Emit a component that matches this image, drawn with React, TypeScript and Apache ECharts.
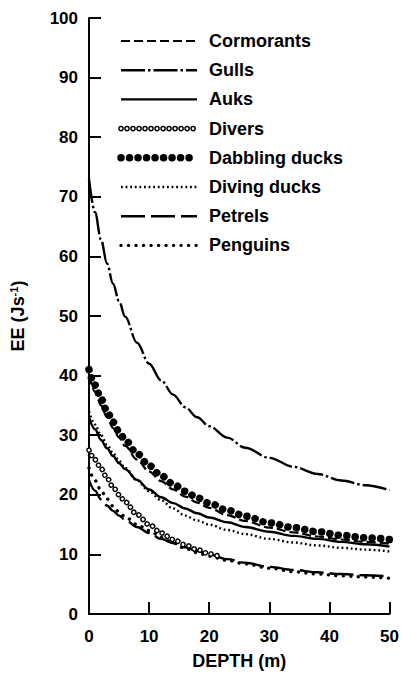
import React, { useEffect, useRef } from "react";
import * as echarts from "echarts";

// ---- data ----
const depths = [0, 1, 2, 3, 4, 5, 6, 8, 10, 12, 14, 16, 18, 20, 23, 26, 30, 34, 38, 42, 46, 50];
const diversDepths = [0, 1, 2, 3, 4, 5, 6, 8, 10, 12, 14, 16, 18, 20, 21.5];

const cormorants = [40, 37.3, 35.0, 33.0, 31.2, 29.6, 28.2, 25.9, 23.9, 22.3, 20.9, 19.7, 18.7, 17.8, 16.6, 15.6, 14.5, 13.7, 13.0, 12.5, 12.1, 11.8];
const gulls = [73, 67.4, 62.8, 58.8, 55.4, 52.5, 49.9, 45.5, 42.0, 39.2, 36.8, 34.7, 33.0, 31.5, 29.6, 27.9, 26.2, 24.7, 23.5, 22.4, 21.6, 20.8];
const auks = [33, 31.0, 29.2, 27.8, 26.5, 25.3, 24.3, 22.5, 20.9, 19.6, 18.6, 17.7, 16.9, 16.2, 15.4, 14.6, 13.8, 13.1, 12.6, 12.1, 11.7, 11.3];
const divers = [27.5, 25.9, 24.4, 22.8, 21.3, 20.0, 18.8, 16.7, 15.0, 13.6, 12.5, 11.6, 10.8, 10.1, 9.7];
const dabblingDucks = [41, 38.4, 36.1, 34.0, 32.2, 30.6, 29.2, 26.9, 24.9, 23.2, 21.8, 20.6, 19.5, 18.6, 17.4, 16.4, 15.3, 14.5, 13.8, 13.2, 12.8, 12.5];
const divingDucks = [34, 31.8, 30.0, 28.4, 27.0, 25.7, 24.5, 22.4, 20.6, 19.1, 17.7, 16.5, 15.7, 15.0, 14.1, 13.4, 12.6, 12.0, 11.5, 11.1, 10.8, 10.5];
const petrels = [22.5, 20.7, 19.2, 18.2, 17.3, 16.5, 15.8, 14.6, 13.6, 12.6, 11.9, 11.2, 10.6, 10.0, 9.2, 8.6, 7.9, 7.4, 7.0, 6.7, 6.5, 6.3];
const penguins = [24.5, 22.4, 20.7, 19.3, 18.1, 17.1, 16.3, 15.0, 14.0, 12.9, 11.9, 11.0, 10.3, 9.7, 9.0, 8.4, 7.7, 7.1, 6.7, 6.4, 6.2, 6.0];

const xTicks = [0, 10, 20, 30, 40, 50];
const yTicks = [0, 10, 20, 30, 40, 50, 60, 70, 80, 90, 100];

const legendNames = ["Cormorants", "Gulls", "Auks", "Divers", "Dabbling ducks", "Diving ducks", "Petrels", "Penguins"];

// ---- styles ----
const FONT = '"Liberation Sans", Arial, sans-serif';
type LS = { width: number; type?: any; cap?: string; color?: string };
const styles: Record<string, LS[]> = {
  Cormorants: [{ width: 2.2, type: [9, 4] }],
  Gulls: [{ width: 2.4, type: [24, 3, 2.5, 3] }],
  Auks: [{ width: 2.4 }],
  Divers: [
    { width: 5.6, type: [0.01, 6], cap: "round" },
    { width: 2.8, type: [0.01, 6], cap: "round", color: "#fff" },
  ],
  "Dabbling ducks": [{ width: 7.5, type: [0.01, 8.5], cap: "round" }],
  "Diving ducks": [{ width: 2.4, type: [1.8, 2.8] }],
  Petrels: [{ width: 2.4, type: [24, 6] }],
  Penguins: [{ width: 3.4, type: [0.01, 7.5], cap: "round" }],
};

const seriesData: Record<string, { xs: number[]; ys: number[] }> = {
  Cormorants: { xs: depths, ys: cormorants },
  Gulls: { xs: depths, ys: gulls },
  Auks: { xs: depths, ys: auks },
  Divers: { xs: diversDepths, ys: divers },
  "Dabbling ducks": { xs: depths, ys: dabblingDucks },
  "Diving ducks": { xs: depths, ys: divingDucks },
  Petrels: { xs: depths, ys: petrels },
  Penguins: { xs: depths, ys: penguins },
};

export default function App() {
  const ref = useRef<HTMLDivElement>(null);
  useEffect(() => {
    if (!ref.current) return;
    const chart = echarts.init(ref.current, undefined, { renderer: "svg" });

    const series: any[] = [];
    legendNames.forEach((name) => {
      const { xs, ys } = seriesData[name];
      styles[name].forEach((st, k) => {
        series.push({
          type: "line",
          name: k === 0 ? name : name + " (overlay)",
          data: xs.map((x, i) => [x, ys[i]]),
          showSymbol: false,
          symbol: "none",
          smooth: 0.35,
          smoothMonotone: "x",
          silent: true,
          lineStyle: {
            color: st.color || "#000",
            width: st.width,
            type: st.type || "solid",
            cap: st.cap || "butt",
          },
          z: 2 + k,
        });
      });
    });

    const legendX1 = 121;
    const legendX2 = 197;
    const legendTop = 41;
    const legendStep = 29.2;
    const graphics: any[] = [];
    legendNames.forEach((name, i) => {
      const y = legendTop + i * legendStep;
      styles[name].forEach((st, k) => {
        graphics.push({
          type: "line",
          shape: { x1: legendX1, y1: y, x2: legendX2, y2: y },
          style: {
            stroke: st.color || "#000",
            lineWidth: st.width,
            lineDash: st.type && Array.isArray(st.type) ? st.type : null,
            lineCap: st.cap || "butt",
          },
          z: 10 + k,
        });
      });
      graphics.push({
        type: "text",
        x: 209,
        y: y,
        style: {
          text: name,
          fill: "#000",
          font: `bold 18px ${FONT}`,
          verticalAlign: "middle",
          align: "left",
        },
        z: 10,
      });
    });

    chart.setOption({
      animation: false,
      backgroundColor: "#fff",
      grid: { left: 89, right: 11, top: 18, bottom: 70, containLabel: false },
      xAxis: {
        type: "value",
        min: xTicks[0],
        max: xTicks[xTicks.length - 1],
        interval: 10,
        name: "DEPTH (m)",
        nameLocation: "middle",
        nameGap: 38,
        nameTextStyle: { color: "#000", fontSize: 18, fontWeight: "bold", fontFamily: FONT },
        axisLine: { lineStyle: { color: "#000", width: 2 } },
        axisTick: { inside: true, length: 12, lineStyle: { color: "#000", width: 2 } },
        axisLabel: { color: "#000", fontSize: 17, fontWeight: "bold", fontFamily: FONT, margin: 14 },
        splitLine: { show: false },
      },
      yAxis: {
        type: "value",
        min: yTicks[0],
        max: yTicks[yTicks.length - 1],
        interval: 10,
        name: "EE (Js{sup|-1})",
        nameLocation: "middle",
        nameGap: 62,
        nameTextStyle: {
          color: "#000",
          fontSize: 18,
          fontWeight: "bold",
          fontFamily: FONT,
          rich: {
            sup: { fontSize: 11, fontWeight: "bold", fontFamily: FONT, color: "#000", verticalAlign: "top", padding: [0, 0, 8, 0] },
          },
        },
        axisLine: { lineStyle: { color: "#000", width: 2 } },
        axisTick: { inside: true, length: 12, lineStyle: { color: "#000", width: 2 } },
        axisLabel: { color: "#000", fontSize: 17, fontWeight: "bold", fontFamily: FONT, margin: 11 },
        splitLine: { show: false },
      },
      series,
      graphic: graphics,
    });
    return () => chart.dispose();
  }, []);
  return (
    <div
      ref={ref}
      style={{ position: "fixed", left: 0, top: 0, width: 402, height: 684, background: "#fff" }}
    />
  );
}
